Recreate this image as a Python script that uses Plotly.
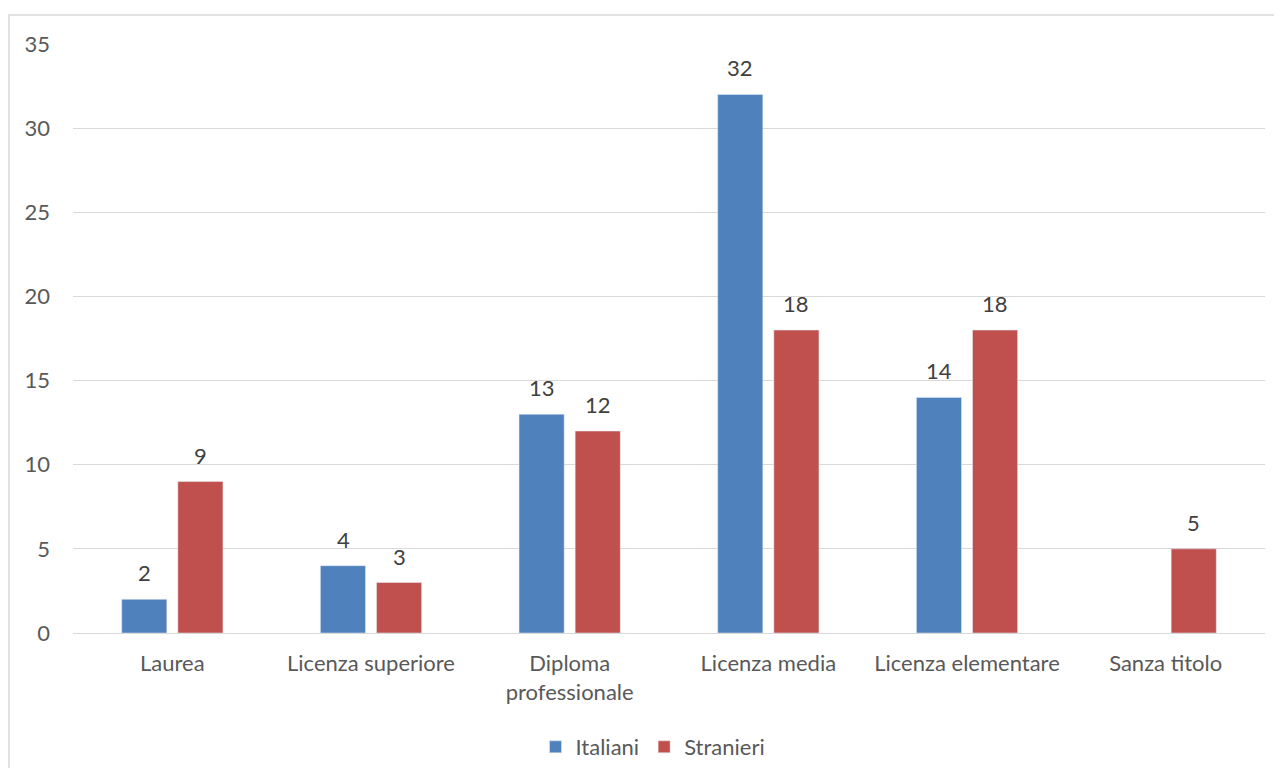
import plotly.graph_objects as go

categories = ["Laurea", "Licenza superiore", "Diploma<br>professionale", "Licenza media", "Licenza elementare", "Sanza titolo"]
italiani = [2, 4, 13, 32, 14, None]
stranieri = [9, 3, 12, 18, 18, 5]
y_ticks = [0, 5, 10, 15, 20, 25, 30, 35]

FONT = "Lato"
FS = 22
W, H = 1266, 760
L, R, T, B = 65, 9, 36, 135
pw, ph = W - L - R, H - T - B


def px_x(p):
    return (p - L) / pw


def px_y(p):
    return (H - B - p) / ph


fig = go.Figure()
fig.add_trace(go.Bar(name="Italiani", x=categories, y=italiani, marker_color="#4F81BD"))
fig.add_trace(go.Bar(name="Stranieri", x=categories, y=stranieri, marker_color="#C0504D"))

annotations = []
for series, shift in ((italiani, -28), (stranieri, 28)):
    for c, v in zip(categories, series):
        if v is None:
            continue
        annotations.append(dict(x=c, y=v, xref="x", yref="y", text=str(v), showarrow=False,
                                xshift=shift, yshift=11, yanchor="bottom",
                                font=dict(family=FONT, size=FS, color="#404040")))

fig.update_layout(
    width=W, height=H,
    margin=dict(l=L, r=R, t=T, b=B, autoexpand=False),
    paper_bgcolor="white", plot_bgcolor="white",
    barmode="group", bargap=0.435, bargroupgap=0.196,
    font=dict(family=FONT, size=FS, color="#595959"),
    xaxis=dict(showgrid=False, ticks="", showline=False, ticklabelstandoff=15,
               tickfont=dict(size=FS, color="#595959")),
    yaxis=dict(range=[0, 35], tickvals=y_ticks, showgrid=True, gridcolor="#D9D9D9", gridwidth=1.3,
               zeroline=True, zerolinecolor="#D9D9D9", zerolinewidth=1.3, showline=False,
               ticks="", ticklabelstandoff=22, tickfont=dict(size=FS, color="#595959")),
    legend=dict(orientation="h", xref="container", yref="container",
                x=645 / W, y=1 - 739 / H, xanchor="center", yanchor="middle",
                font=dict(size=FS, color="#595959"), traceorder="normal"),
    showlegend=True,
    annotations=annotations,
    shapes=[dict(type="rect", xref="paper", yref="paper",
                 x0=px_x(1), x1=px_x(1300), y0=px_y(800), y1=px_y(7),
                 line=dict(color="#D9D9D9", width=1.5), fillcolor="rgba(0,0,0,0)", layer="below")],
)

fig.write_html("out.html")
